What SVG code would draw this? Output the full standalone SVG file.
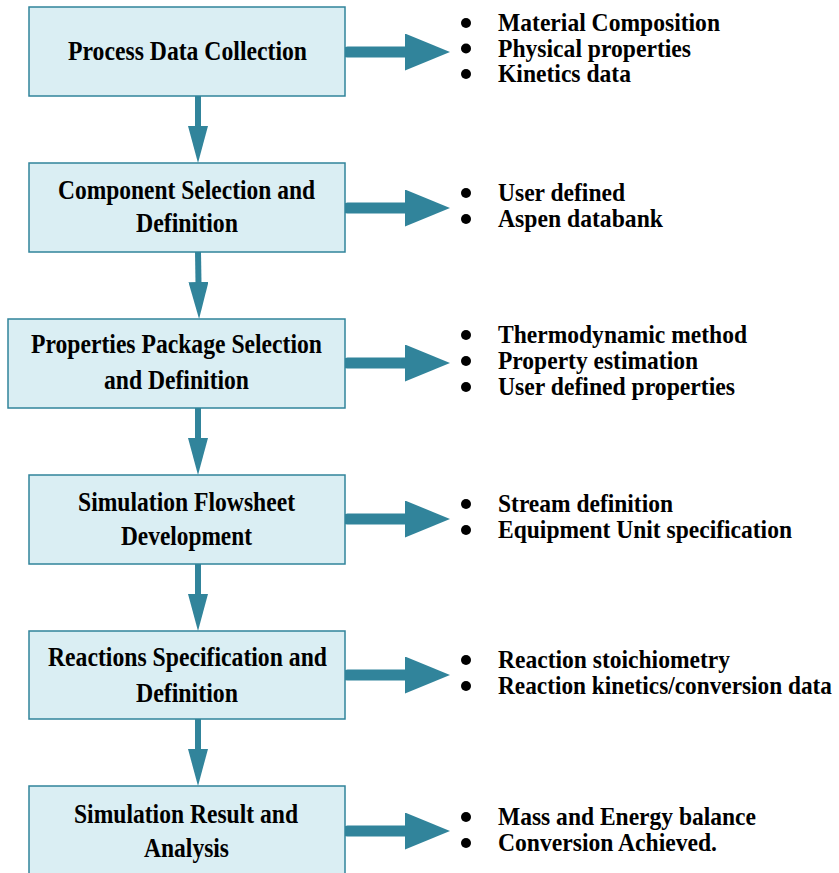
<svg xmlns="http://www.w3.org/2000/svg" width="839" height="873" viewBox="0 0 839 873">
<style>
  .box { fill: #DAEEF3; stroke: #31849B; stroke-width: 1.5; }
  .lbl { font-family: "Liberation Serif", "Times New Roman", serif; font-weight: bold; font-size: 27px; fill: #000; text-anchor: middle; }
  .item { font-family: "Liberation Serif", "Times New Roman", serif; font-weight: bold; font-size: 25px; fill: #000; }
  .dot { fill: #000; }
  .down { stroke: #31849B; stroke-width: 6; fill: none; marker-end: url(#headV); }
  .side { stroke: #31849B; stroke-width: 11; fill: none; stroke-linecap: round; marker-end: url(#headH); }
</style>
<defs>
  <marker id="headV" markerUnits="userSpaceOnUse" viewBox="0 0 37 20" markerWidth="37" markerHeight="20" refX="1" refY="10" orient="auto">
    <path d="M0,0 L37,10 L0,20 Z" fill="#31849B"/>
  </marker>
  <marker id="headH" markerUnits="userSpaceOnUse" viewBox="0 0 45 37" markerWidth="45" markerHeight="37" refX="1" refY="18.5" orient="auto">
    <path d="M0,0 L45,18.5 L0,37 Z" fill="#31849B"/>
  </marker>
</defs>
<rect width="839" height="873" fill="#fff"/>

<g id="connectors">
  <line class="down" x1="198" y1="96" x2="198" y2="127"/>
  <line class="down" x1="198" y1="252" x2="198.5" y2="283"/>
  <line class="down" x1="198" y1="408" x2="198" y2="439"/>
  <line class="down" x1="198" y1="564" x2="198" y2="595"/>
  <line class="down" x1="198" y1="719" x2="198" y2="750"/>
  <line class="side" x1="347.5" y1="52" x2="406" y2="52"/>
  <line class="side" x1="347.5" y1="208" x2="406" y2="208"/>
  <line class="side" x1="347.5" y1="363" x2="406" y2="363"/>
  <line class="side" x1="347.5" y1="519" x2="406" y2="519"/>
  <line class="side" x1="347.5" y1="675" x2="406" y2="675"/>
  <line class="side" x1="347.5" y1="831" x2="406" y2="831"/>
</g>

<g id="node1">
  <rect class="box" x="29" y="7" width="316" height="89"/>
  <text class="lbl" x="187.5" y="60" textLength="239" lengthAdjust="spacingAndGlyphs">Process Data Collection</text>
</g>
<g id="node2">
  <rect class="box" x="29" y="163" width="316" height="89"/>
  <text class="lbl" x="186.5" y="199" textLength="257" lengthAdjust="spacingAndGlyphs">Component Selection and</text>
  <text class="lbl" x="187" y="232" textLength="102" lengthAdjust="spacingAndGlyphs">Definition</text>
</g>
<g id="node3">
  <rect class="box" x="8" y="319" width="337" height="89"/>
  <text class="lbl" x="176.5" y="353" textLength="291" lengthAdjust="spacingAndGlyphs">Properties Package Selection</text>
  <text class="lbl" x="176.5" y="389" textLength="145" lengthAdjust="spacingAndGlyphs">and Definition</text>
</g>
<g id="node4">
  <rect class="box" x="29" y="475" width="316" height="89"/>
  <text class="lbl" x="186.5" y="511" textLength="217" lengthAdjust="spacingAndGlyphs">Simulation Flowsheet</text>
  <text class="lbl" x="186.5" y="545" textLength="131" lengthAdjust="spacingAndGlyphs">Development</text>
</g>
<g id="node5">
  <rect class="box" x="29" y="631" width="316" height="88"/>
  <text class="lbl" x="187.5" y="666" textLength="279" lengthAdjust="spacingAndGlyphs">Reactions Specification and</text>
  <text class="lbl" x="187" y="702" textLength="102" lengthAdjust="spacingAndGlyphs">Definition</text>
</g>
<g id="node6">
  <rect class="box" x="29" y="786" width="316" height="92"/>
  <text class="lbl" x="186" y="823" textLength="224" lengthAdjust="spacingAndGlyphs">Simulation Result and</text>
  <text class="lbl" x="186.5" y="857" textLength="85" lengthAdjust="spacingAndGlyphs">Analysis</text>
</g>

<g id="list1">
  <circle class="dot" cx="466" cy="23" r="5"/>
  <circle class="dot" cx="466" cy="48.5" r="5"/>
  <circle class="dot" cx="466" cy="74" r="5"/>
  <text class="item" x="498" y="31" textLength="222" lengthAdjust="spacingAndGlyphs">Material Composition</text>
  <text class="item" x="498" y="56.5" textLength="193" lengthAdjust="spacingAndGlyphs">Physical properties</text>
  <text class="item" x="498" y="82" textLength="133" lengthAdjust="spacingAndGlyphs">Kinetics data</text>
</g>
<g id="list2">
  <circle class="dot" cx="466" cy="193" r="5"/>
  <circle class="dot" cx="466" cy="219" r="5"/>
  <text class="item" x="498" y="201" textLength="127" lengthAdjust="spacingAndGlyphs">User defined</text>
  <text class="item" x="498" y="227" textLength="165" lengthAdjust="spacingAndGlyphs">Aspen databank</text>
</g>
<g id="list3">
  <circle class="dot" cx="466" cy="335" r="5"/>
  <circle class="dot" cx="466" cy="361" r="5"/>
  <circle class="dot" cx="466" cy="387" r="5"/>
  <text class="item" x="498" y="343" textLength="249" lengthAdjust="spacingAndGlyphs">Thermodynamic method</text>
  <text class="item" x="498" y="369" textLength="200" lengthAdjust="spacingAndGlyphs">Property estimation</text>
  <text class="item" x="498" y="395" textLength="237" lengthAdjust="spacingAndGlyphs">User defined properties</text>
</g>
<g id="list4">
  <circle class="dot" cx="466" cy="504" r="5"/>
  <circle class="dot" cx="466" cy="530" r="5"/>
  <text class="item" x="498" y="512" textLength="175" lengthAdjust="spacingAndGlyphs">Stream definition</text>
  <text class="item" x="498" y="538" textLength="294" lengthAdjust="spacingAndGlyphs">Equipment Unit specification</text>
</g>
<g id="list5">
  <circle class="dot" cx="466" cy="660" r="5"/>
  <circle class="dot" cx="466" cy="686" r="5"/>
  <text class="item" x="498" y="668" textLength="232" lengthAdjust="spacingAndGlyphs">Reaction stoichiometry</text>
  <text class="item" x="498" y="694" font-size="23" textLength="334" lengthAdjust="spacingAndGlyphs">Reaction kinetics/conversion data</text>
</g>
<g id="list6">
  <circle class="dot" cx="466" cy="817" r="5"/>
  <circle class="dot" cx="466" cy="843" r="5"/>
  <text class="item" x="498" y="825" textLength="258" lengthAdjust="spacingAndGlyphs">Mass and Energy balance</text>
  <text class="item" x="498" y="851" textLength="219" lengthAdjust="spacingAndGlyphs">Conversion Achieved.</text>
</g>
</svg>
